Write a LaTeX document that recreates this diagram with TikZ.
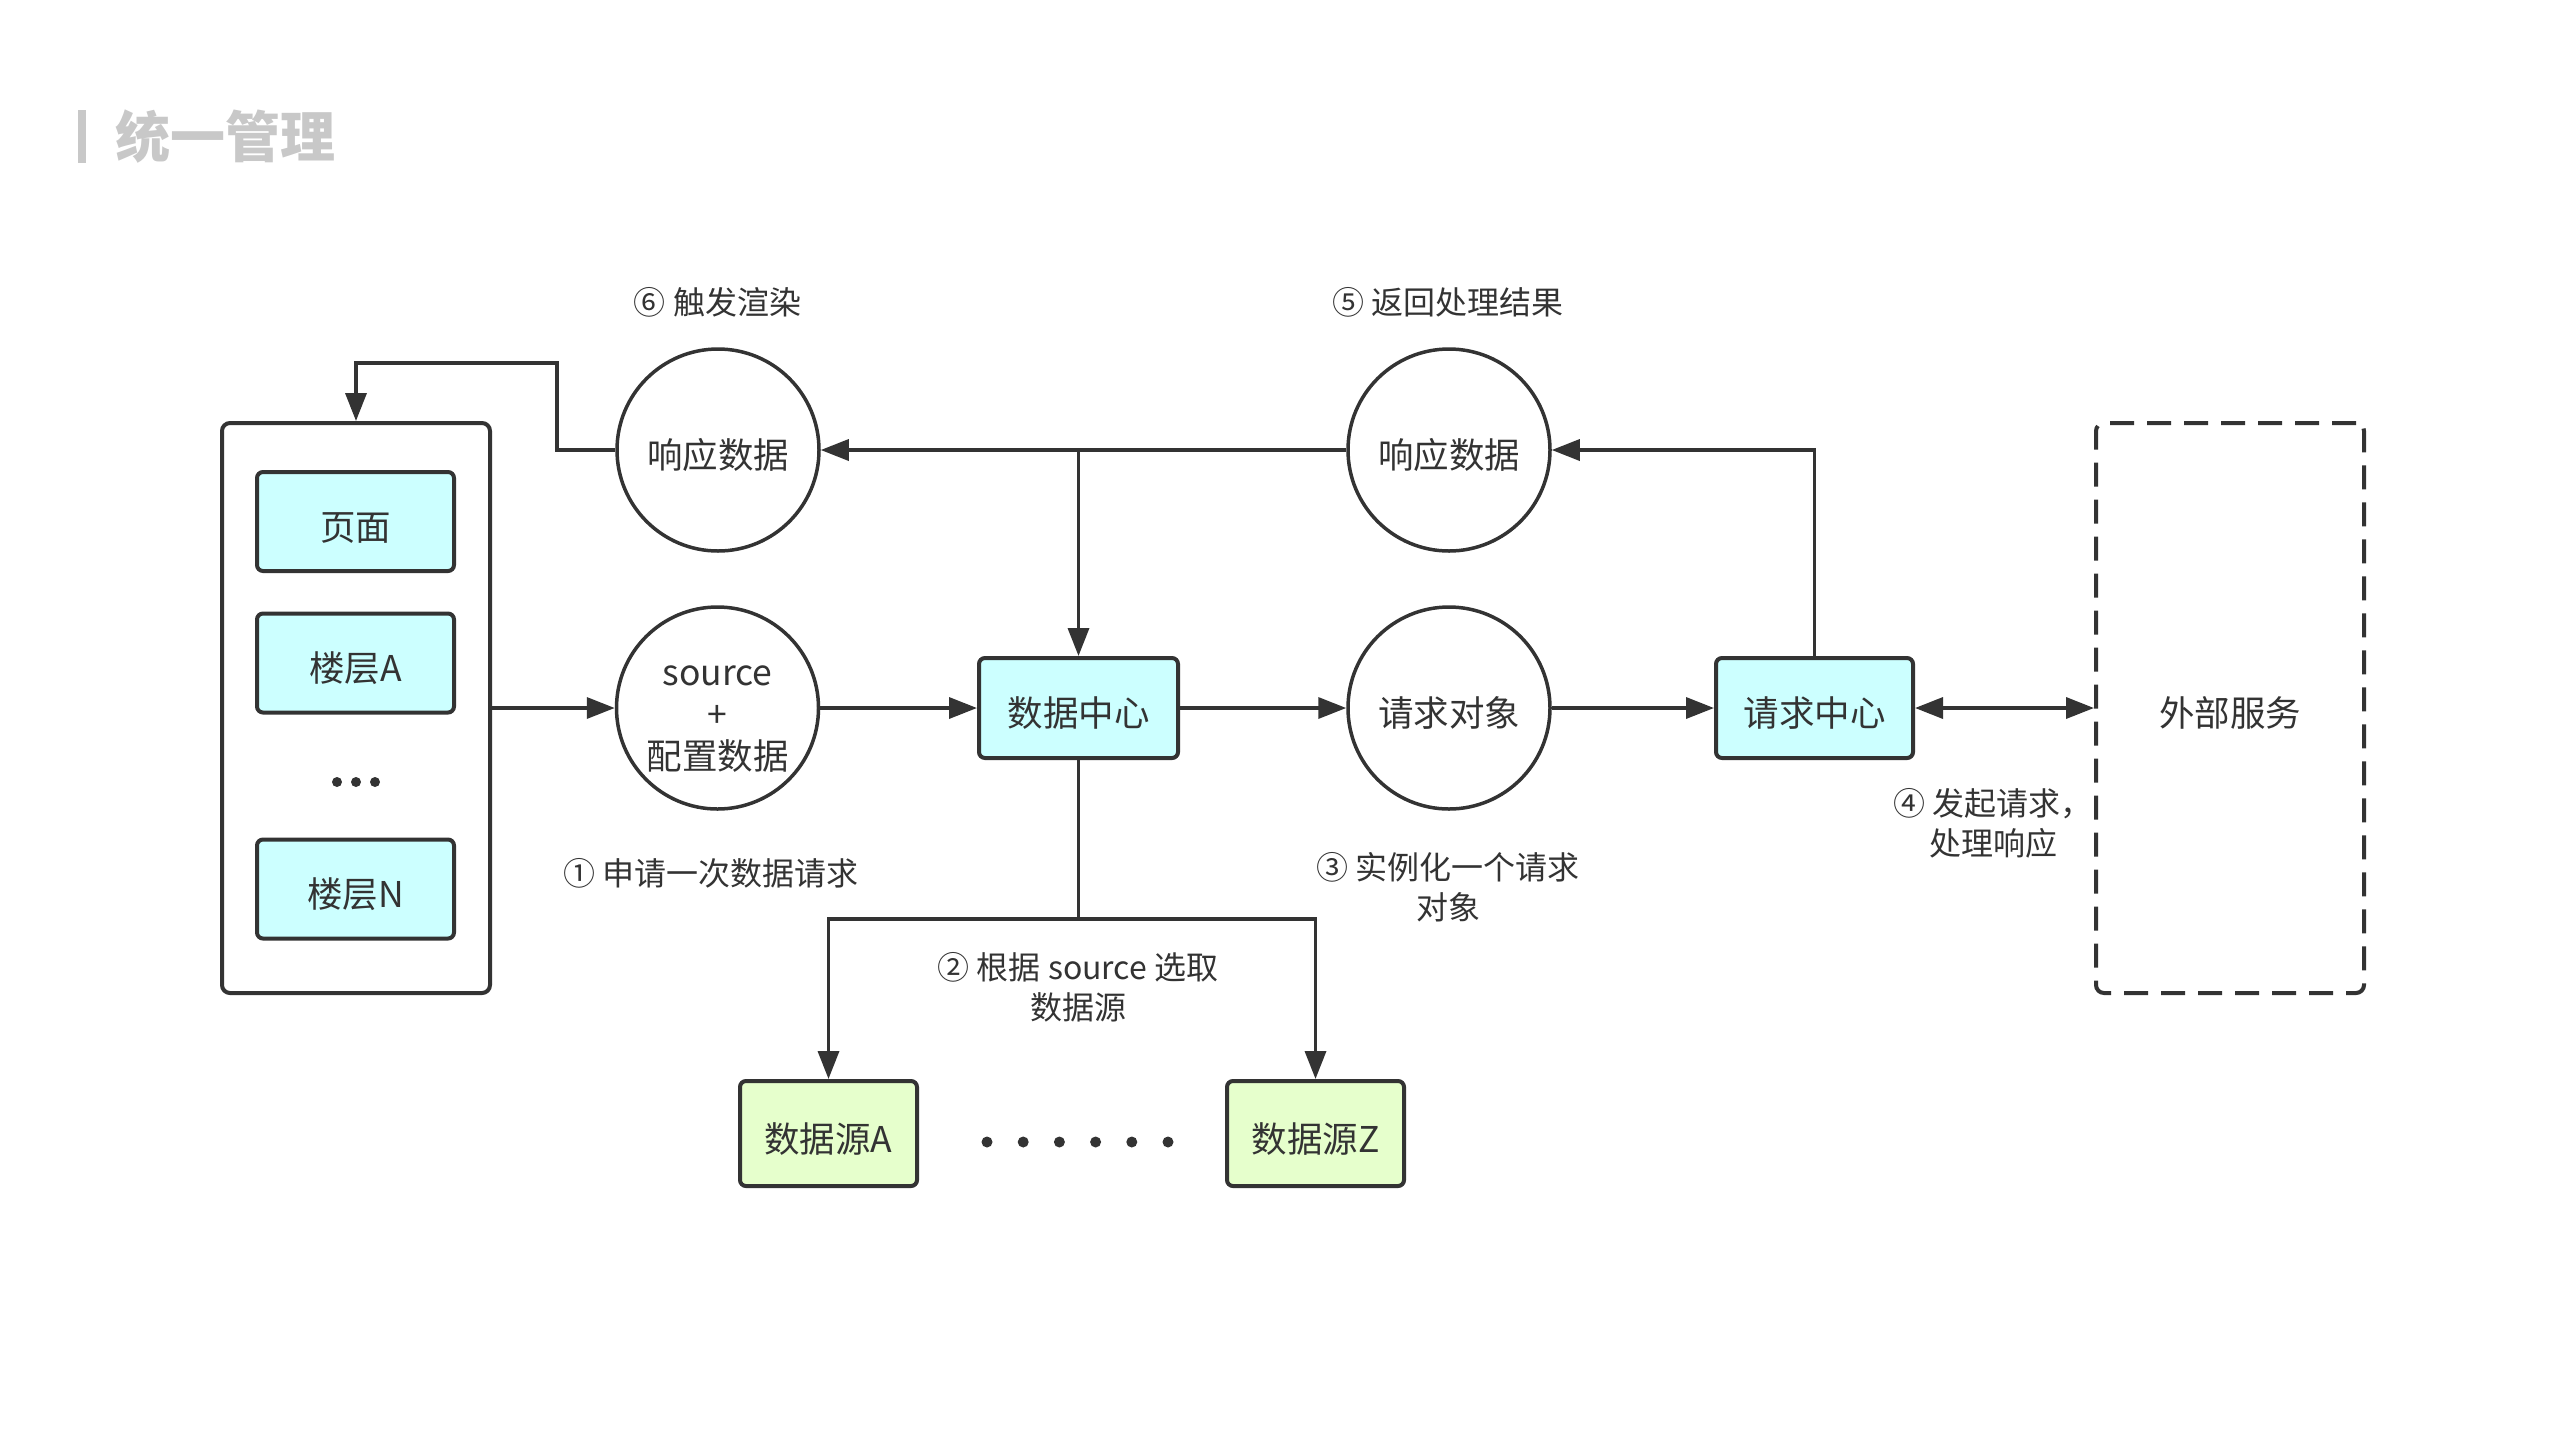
\documentclass[tikz,border=0pt]{standalone}
\usepackage{fontspec}
\setmainfont{Noto Sans CJK SC}
\usetikzlibrary{arrows.meta}
\definecolor{ln}{HTML}{333333}
\definecolor{cy}{HTML}{CCFFFF}
\definecolor{gr}{HTML}{E6FFCC}
\definecolor{tx}{HTML}{333333}
\definecolor{ttl}{HTML}{C8C8C8}
\begin{document}
\begin{tikzpicture}[x=1pt,y=-1pt,
  every node/.style={text=tx,font=\fontsize{35.5}{42}\selectfont,inner sep=0pt},
  one/.style={text height=37pt,text depth=0pt},
  cbox/.style={one,draw=ln,line width=4pt,rounded corners=6pt,fill=cy,minimum width=197pt,minimum height=99pt},
  gbox/.style={one,draw=ln,line width=4pt,rounded corners=6pt,fill=gr,minimum width=177pt,minimum height=105pt},
  circ/.style={draw=ln,line width=3.5pt,circle,minimum size=202pt,align=center},
  lbl/.style={font=\fontsize{32}{40}\selectfont,align=center},
  conn/.style={draw=ln,line width=3.5pt},
  arr/.style={conn,-{Triangle[length=28pt,width=21pt]}},
  darr/.style={conn,{Triangle[length=28pt,width=21pt]}-{Triangle[length=28pt,width=21pt]}},
  dot/.style={circle,fill=ln,minimum size=10pt}]
\useasboundingbox (0,0) rectangle (2554,1428);
% title
\fill[ttl] (78,110) rectangle (86,163);
\node[text=ttl,font=\fontsize{55}{60}\selectfont\bfseries,anchor=west] (title) at (115,137) {统一管理};
% left container
\node[draw=ln,line width=4pt,rounded corners=8pt,minimum width=268pt,minimum height=570pt] (outer) at (356,708) {};
\node[cbox] (page) at (355.5,521.5) {页面};
\node[cbox] (floorA) at (355.5,663) {楼层A};
\node[cbox] (floorN) at (355.5,889) {楼层N};
\node[dot] (d1) at (337,782) {};
\node[dot] (d2) at (356,782) {};
\node[dot] (d3) at (375,782) {};
% circles
\node[circ] (src) at (717.5,708) {\rule{0pt}{41pt}source\\+\\配置数据};
\node[circ,one] (resp1) at (718,450) {响应数据};
\node[circ,one] (reqobj) at (1449,708) {请求对象};
\node[circ,one] (resp2) at (1449,450) {响应数据};
% centers
\node[cbox,minimum width=199pt,minimum height=100pt] (dc) at (1078.5,708) {数据中心};
\node[cbox,minimum height=100pt] (rc) at (1814.5,708) {请求中心};
% external
\node[one,draw=ln,line width=4pt,dash pattern=on 24pt off 13pt,rounded corners=8pt,minimum width=268pt,minimum height=570pt] (ext) at (2230,708) {外部服务};
% data sources
\node[gbox] (dsA) at (828.5,1133.5) {数据源A};
\node[gbox] (dsZ) at (1315.5,1133.5) {数据源Z};
\foreach \i in {0,...,5} {\node[dot,minimum size=11pt] (bd\i) at (987+36.2*\i,1142) {};}
% labels
\node[lbl] (l6) at (717.5,302) {⑥ 触发渲染};
\node[lbl] (l5) at (1448,302) {⑤ 返回处理结果};
\node[lbl] (l1) at (711,873) {① 申请一次数据请求};
\node[lbl] (l2) at (1078,987) {② 根据 source 选取\\数据源};
\node[lbl] (l3) at (1448,887) {③ 实例化一个请求\\对象};
\node[lbl] (l4) at (1993,823) {④ 发起请求，\\处理响应};
% connectors
\coordinate (k1) at (557,363);
\coordinate (j1) at (1078.5,450);
\coordinate (j2) at (1078.5,919);
\draw[arr] (outer.east) -- (src.west);
\draw[arr] (src.east) -- (dc.west);
\draw[arr] (dc.east) -- (reqobj.west);
\draw[arr] (reqobj.east) -- (rc.west);
\draw[darr] (rc.east) -- (ext.west);
\draw[arr] (rc.north) |- (resp2.east);
\draw[arr] (resp2.west) -- (resp1.east);
\draw[arr] (j1) -- (dc.north);
\draw[arr] (resp1.west) -| (k1) -| (outer.north);
\draw[conn] (dc.south) -- (j2);
\draw[arr] (j2) -| (dsA.north);
\draw[arr] (j2) -| (dsZ.north);
\end{tikzpicture}
\end{document}
